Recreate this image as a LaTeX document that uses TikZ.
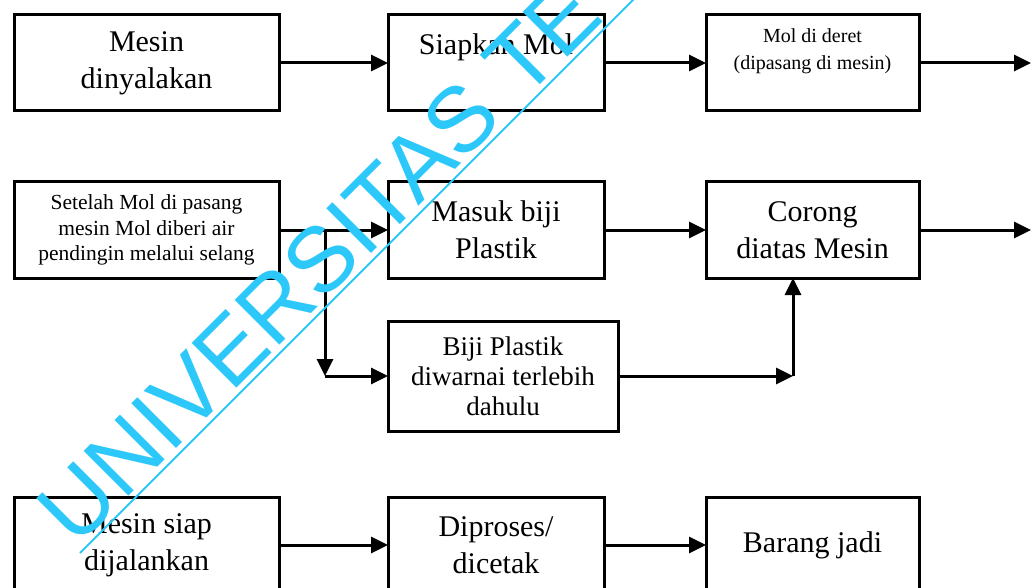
\documentclass[tikz,border=0pt]{standalone}
\usepackage{fontspec}
\setmainfont{Liberation Serif}
\newfontfamily\wmfont{Liberation Sans}
\usetikzlibrary{positioning,arrows.meta}
\definecolor{wmcyan}{RGB}{45,200,250}

\begin{document}
\begin{tikzpicture}[
		x=1pt, y=-1pt,
		box/.style = {
			draw, rectangle,
			line width=3pt,
			align=center,
			minimum height=96pt,
			inner sep=0pt,
			outer sep=0pt,
			font=\fontsize{30}{37}\selectfont
			},
		small/.style = {font=\fontsize{20}{27}\selectfont},
		note/.style = {font=\fontsize{21.5}{25.5}\selectfont},
		mid/.style = {font=\fontsize{27}{30}\selectfont},
		arr/.style = {line width=3pt, -{Triangle[length=17pt,width=16pt]}},
		wm/.style = {text=wmcyan, inner sep=0pt, font=\wmfont\fontsize{92}{92}\selectfont}
		]
		\useasboundingbox (0,0) rectangle (1033,588);
		\clip (0,0) rectangle (1033,588);

		\node [box, minimum width=265pt] (mesin) at (146.5,63) {Mesin\\dinyalakan};
		\node [box, minimum width=216pt, right=109pt of mesin] (siapkan) {Siapkan Mol\\\mbox{}};
		\node [box, small, minimum width=213pt, right=102pt of siapkan] (deret) {Mol di deret\\(dipasang di mesin)\\\mbox{}};

		\node [box, note, minimum width=265pt, below=71pt of mesin] (setelah) {Setelah Mol di pasang\\mesin Mol diberi air\\pendingin melalui selang};
		\node [box, minimum width=216pt, right=109pt of setelah] (masuk) {Masuk biji\\Plastik};
		\node [box, minimum width=213pt, right=102pt of masuk] (corong) {Corong\\diatas Mesin};
		\node [box, mid, minimum width=230pt, minimum height=110pt, below=43pt of masuk.south west, anchor=north west] (warna) {Biji Plastik\\diwarnai terlebih\\dahulu};

		\node [box, minimum width=265pt, below=219pt of setelah] (siap) {Mesin siap\\dijalankan};
		\node [box, minimum width=216pt, right=109pt of siap] (proses) {Diproses/\\dicetak};
		\node [box, minimum width=213pt, right=102pt of proses] (jadi) {Barang jadi};

		\path (deret.east) ++(112pt,0) coordinate (out1);
		\path (corong.east) ++(112pt,0) coordinate (out2);
		\path (setelah.east) ++(46pt,0) coordinate (split);
		\path (warna.east) ++(175pt,0) coordinate (knee);

		\draw[arr] (mesin.east) -- (siapkan.west);
		\draw[arr] (siapkan.east) -- (deret.west);
		\draw[arr] (deret.east) -- (out1);
		\draw[arr] (setelah.east) -- (masuk.west);
		\draw[arr] (masuk.east) -- (corong.west);
		\draw[arr] (corong.east) -- (out2);
		\draw[arr] (split) -- (split |- warna.west);
		\draw[arr] (split |- warna.west) -- (warna.west);
		\draw[arr] (warna.east) -- (knee);
		\draw[arr] (knee) -- (knee |- corong.south);
		\draw[arr] (siap.east) -- (proses.west);
		\draw[arr] (proses.east) -- (jadi.west);

		% watermark
		\node [wm, rotate=45, anchor=base west] (univ) at (76,549) {UNIVERSITAS TE};
		\draw [wmcyan, line width=2pt] (80,553) -- (640,-7);
	\end{tikzpicture}
\end{document}
